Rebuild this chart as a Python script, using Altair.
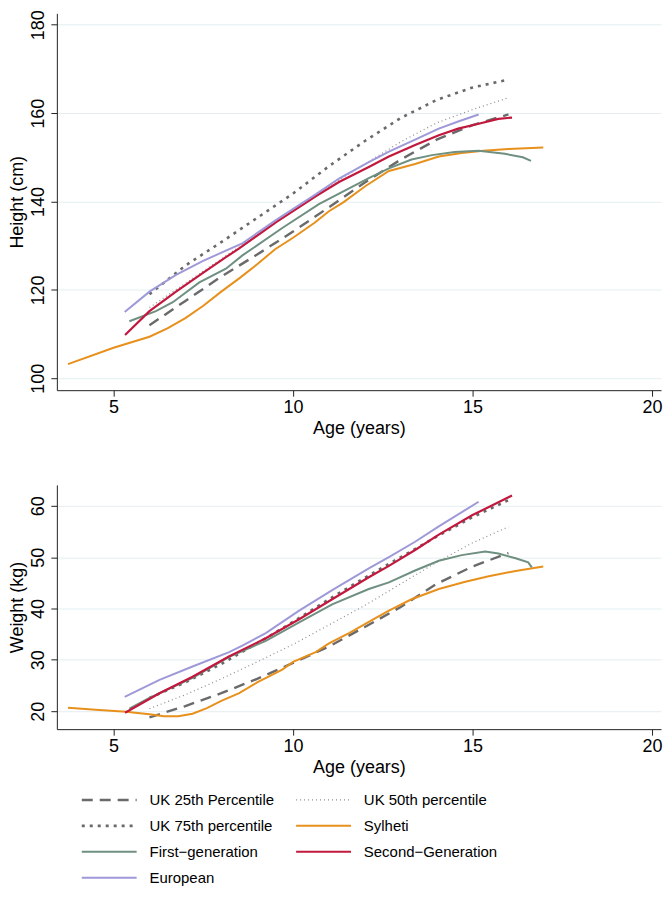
import altair as alt
import pandas as pd

# ---------------- data ----------------
UK_AGES = [6, 7, 8, 9, 10, 11, 12, 13, 14, 15, 16]

# Height (cm)
H_UK25 = [112.0, 117.5, 123.0, 128.0, 133.2, 138.7, 144.3, 149.5, 154.0, 157.3, 159.7]
H_UK50 = [116.0, 121.5, 127.0, 132.5, 138.0, 143.5, 148.5, 153.5, 157.8, 160.8, 163.5]
H_UK75 = [119.0, 125.5, 130.8, 136.3, 141.8, 148.0, 153.7, 158.9, 163.0, 165.8, 167.6]

H_SYL_AGE = [3.73, 5.0, 6.0, 6.5, 7.0, 7.5, 8.0, 8.5, 9.0, 9.5, 10.0, 10.6, 11.0, 11.4,
             12.0, 12.67, 13.4, 14.06, 14.7, 15.3, 16.0, 16.97]
H_SYL = [103.2, 106.9, 109.4, 111.3, 113.6, 116.4, 119.6, 122.6, 125.8, 129.2, 131.8, 135.2,
         137.8, 139.8, 143.4, 146.9, 148.5, 150.2, 151.0, 151.5, 151.9, 152.2]

H_GEN1_AGE = [5.44, 6.18, 6.65, 7.39, 8.13, 8.59, 9.7, 10.72, 11.28, 12.11, 12.67, 13.3,
              13.87, 14.5, 15.17, 15.9, 16.4, 16.63]
H_GEN1 = [112.9, 115.2, 117.2, 121.7, 124.8, 127.8, 134.0, 139.4, 141.8, 145.3, 147.5, 149.5,
          150.5, 151.2, 151.5, 150.8, 150.0, 149.2]

H_GEN2_AGE = [5.32, 6.0, 6.74, 7.48, 8.13, 8.5, 9.52, 10.63, 11.28, 12.11, 12.67, 13.4,
              14.06, 14.6, 15.17, 15.72, 16.1]
H_GEN2 = [109.8, 115.2, 119.6, 123.8, 127.4, 129.4, 135.3, 141.2, 144.4, 147.8, 150.2, 152.8,
          155.0, 156.5, 157.6, 158.7, 159.0]

H_EUR_AGE = [5.31, 6.0, 6.74, 7.48, 8.13, 8.6, 9.52, 10.63, 11.28, 12.11, 12.67, 13.4,
             14.06, 14.6, 15.17]
H_EUR = [115.0, 119.6, 123.4, 126.5, 128.9, 130.6, 135.8, 141.6, 145.2, 148.9, 151.3, 154.0,
         156.5, 158.1, 159.7]

# Weight (kg)
W_UK25 = [18.8, 21.0, 23.5, 26.3, 29.4, 32.6, 36.4, 40.3, 44.8, 48.2, 50.8]
W_UK50 = [20.5, 23.2, 26.3, 29.6, 33.0, 36.8, 40.6, 44.8, 49.0, 52.8, 55.9]
W_UK75 = [22.6, 25.6, 29.2, 33.2, 37.4, 41.8, 46.0, 50.0, 54.0, 57.8, 61.1]

W_SYL_AGE = [3.73, 4.5, 5.35, 6.0, 6.4, 6.8, 7.2, 7.6, 8.0, 8.5, 9.0, 9.7, 10.0, 10.63,
             11.0, 11.56, 12.11, 12.67, 13.3, 14.06, 14.8, 15.45, 16.2, 16.97]
W_SYL = [20.65, 20.3, 19.9, 19.4, 19.0, 19.0, 19.5, 20.6, 22.0, 23.5, 25.6, 28.1, 29.6, 31.5,
         33.2, 35.2, 37.4, 39.6, 41.8, 43.8, 45.2, 46.3, 47.3, 48.2]

W_GEN1_AGE = [5.44, 6.0, 7.2, 8.22, 9.24, 10.17, 11.09, 12.11, 12.67, 13.4, 14.06, 14.7,
              15.35, 15.72, 16.2, 16.55, 16.65]
W_GEN1 = [20.5, 22.6, 26.5, 30.6, 33.7, 37.3, 40.8, 43.8, 45.1, 47.4, 49.3, 50.4,
          51.1, 50.7, 49.8, 49.0, 48.0]

W_GEN2_AGE = [5.32, 6.28, 7.2, 8.2, 9.24, 10.17, 11.09, 12.11, 12.67, 13.4, 14.06, 15.0, 16.1]
W_GEN2 = [19.7, 23.5, 26.7, 30.6, 34.2, 37.9, 41.8, 46.1, 48.3, 51.4, 54.4, 58.2, 62.0]

W_EUR_AGE = [5.31, 6.28, 7.2, 8.22, 8.6, 9.24, 10.17, 11.09, 12.11, 12.67, 13.4, 14.06, 15.17]
W_EUR = [22.8, 26.1, 28.7, 31.5, 32.8, 35.2, 39.6, 43.6, 47.8, 50.0, 53.0, 56.0, 60.8]

SERIES = ["UK 25th Percentile", "UK 50th percentile", "UK 75th percentile", "Sylheti",
          "First\u2212generation", "Second\u2212Generation", "European"]
COLORS = ["#6a6a6a", "#8c8c8c", "#6a6a6a", "#E8901C", "#6F9080", "#C2183E", "#9E99D8"]
DASHES = [[11, 7], [1, 3], [3, 5], None, None, None, None]
WIDTHS = [2.4, 1.2, 2.6, 2.0, 2.0, 2.2, 2.0]

LEG_COL = [0, 1, 0, 1, 0, 1, 0]
LEG_ROW = [0, 0, 1, 1, 2, 2, 3]

X_TICKS = [5, 10, 15, 20]
H_TICKS = [100, 120, 140, 160, 180]
W_TICKS = [20, 30, 40, 50, 60]

# ---------------- tables ----------------
def table(pairs):
    rows = []
    for name, ages, vals in pairs:
        for a, v in zip(ages, vals):
            rows.append({"series": name, "age": a, "value": v})
    return pd.DataFrame(rows)

height_df = table([
    (SERIES[0], UK_AGES, H_UK25), (SERIES[1], UK_AGES, H_UK50), (SERIES[2], UK_AGES, H_UK75),
    (SERIES[3], H_SYL_AGE, H_SYL), (SERIES[4], H_GEN1_AGE, H_GEN1),
    (SERIES[5], H_GEN2_AGE, H_GEN2), (SERIES[6], H_EUR_AGE, H_EUR)])
weight_df = table([
    (SERIES[0], UK_AGES, W_UK25), (SERIES[1], UK_AGES, W_UK50), (SERIES[2], UK_AGES, W_UK75),
    (SERIES[3], W_SYL_AGE, W_SYL), (SERIES[4], W_GEN1_AGE, W_GEN1),
    (SERIES[5], W_GEN2_AGE, W_GEN2), (SERIES[6], W_EUR_AGE, W_EUR)])

FONT = "Liberation Sans"
AX_FS = 18
PLOT_W = 606
X_DOMAIN = [3.42, 20.25]


def style_kw(i):
    kw = dict(color=COLORS[i], strokeWidth=WIDTHS[i])
    if DASHES[i] is not None:
        kw["strokeDash"] = DASHES[i]
    return kw


def panel(df, ytitle, ydomain, yticks, h):
    x_axis = alt.Axis(values=X_TICKS, title="Age (years)", grid=False, tickSize=6,
                      labelPadding=2, titlePadding=3, labelFontSize=AX_FS, titleFontSize=AX_FS,
                      titleFontWeight="normal", labelFont=FONT, titleFont=FONT,
                      domainColor="#222222", tickColor="#222222", labelColor="#000000",
                      titleColor="#000000")
    y_axis = alt.Axis(values=yticks, title=ytitle, grid=True, gridColor="#E4EEF1", gridWidth=1,
                      tickSize=6, labelAngle=270, labelAlign="center", labelBaseline="bottom",
                      labelPadding=3, titlePadding=3, labelFontSize=AX_FS, titleFontSize=AX_FS,
                      titleFontWeight="normal", labelFont=FONT, titleFont=FONT,
                      domainColor="#222222", tickColor="#222222", labelColor="#000000",
                      titleColor="#000000")
    layers = []
    for i, name in enumerate(SERIES):
        layers.append(
            alt.Chart(df).transform_filter(alt.datum.series == name)
            .mark_line(**style_kw(i))
            .encode(
                x=alt.X("age:Q", scale=alt.Scale(domain=X_DOMAIN, nice=False, zero=False), axis=x_axis),
                y=alt.Y("value:Q", scale=alt.Scale(domain=ydomain, nice=False, zero=False), axis=y_axis),
                order="age:Q",
            )
        )
    return alt.layer(*layers).properties(width=PLOT_W, height=h)


top = panel(height_df, "Height (cm)", [97.30, 182.59], H_TICKS, 378)
bottom = panel(weight_df, "Weight (kg)", [16.5, 64.08], W_TICKS, 245)

# ---------------- legend ----------------
SYM_LEN = 0.256
LABEL_OFF = 0.316
leg_df = pd.DataFrame({"series": SERIES, "col": LEG_COL, "row": LEG_ROW})
leg_df["x0"] = leg_df["col"]
leg_df["x1"] = leg_df["col"] + SYM_LEN
leg_df["xt"] = leg_df["col"] + LABEL_OFF

COL_STEP = 215.0
leg_x = alt.Scale(domain=[-25 / COL_STEP, (PLOT_W - 25) / COL_STEP], nice=False, zero=False)
leg_y = alt.Scale(domain=[-0.5, 3.5], reverse=True, nice=False, zero=False)

leg_layers = []
for i, name in enumerate(SERIES):
    leg_layers.append(
        alt.Chart(leg_df).transform_filter(alt.datum.series == name)
        .mark_rule(**style_kw(i))
        .encode(x=alt.X("x0:Q", scale=leg_x, axis=None), x2="x1:Q",
                y=alt.Y("row:Q", scale=leg_y, axis=None))
    )
leg_layers.append(
    alt.Chart(leg_df).mark_text(align="left", baseline="middle", fontSize=15, font=FONT,
                                color="#000000")
    .encode(x=alt.X("xt:Q", scale=leg_x, axis=None), y=alt.Y("row:Q", scale=leg_y, axis=None),
            text="series:N")
)
legend = alt.layer(*leg_layers).properties(width=PLOT_W, height=104)

chart = alt.vconcat(
    alt.vconcat(top, bottom, spacing=48),
    legend,
    spacing=11,
).properties(
    padding={"left": 0, "top": 0, "right": 0, "bottom": 0}
).configure(font=FONT).configure_view(strokeWidth=0)

chart.save("out.html", embed_options={"renderer": "svg", "actions": False})
